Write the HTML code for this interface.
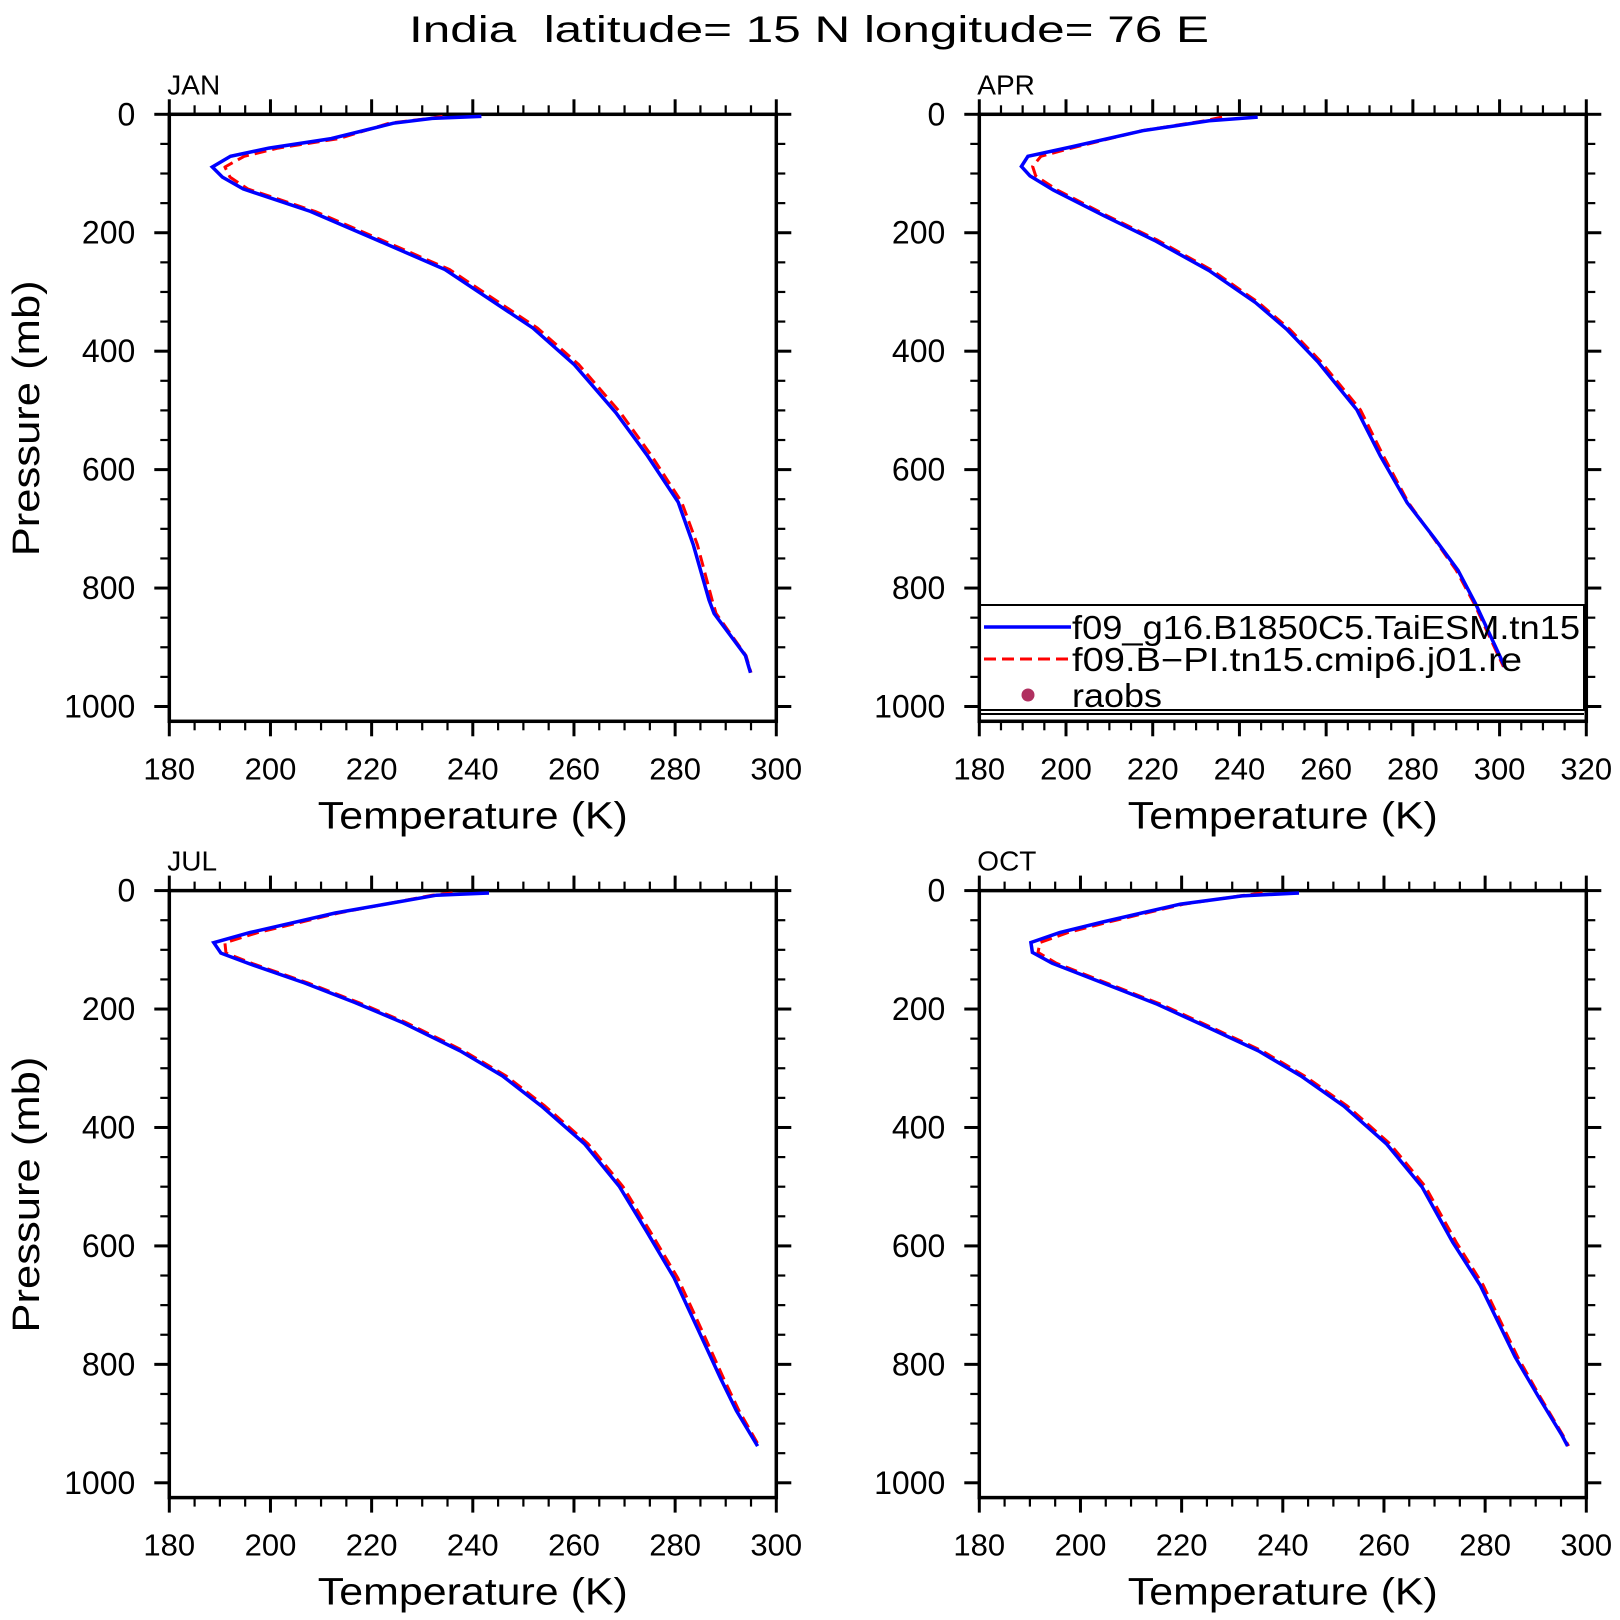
<!DOCTYPE html>
<html><head><meta charset="utf-8">
<style>
html,body{margin:0;padding:0;background:#fff;}
svg{display:block;}
text{font-family:"Liberation Sans",sans-serif;fill:#000;}
</style></head>
<body>
<svg id="fig" width="1620" height="1620" viewBox="0 0 1620 1620" xmlns="http://www.w3.org/2000/svg">
<rect x="0" y="0" width="1620" height="1620" fill="#fff"/>
<text x="809" y="42" font-size="37" text-anchor="middle" textLength="800" lengthAdjust="spacingAndGlyphs" xml:space="preserve">India  latitude= 15 N longitude= 76 E</text>
</svg>
<script>
// ---- data (pressure in mb, temperature in K) ----
const janP = [3.6,7,15,41,57,71,89,106,126,164,209,262,361,423,504,575,655,727,820,843,914,943];
const janModel = [241.7,232,224.3,212,199.7,192.1,188.5,190.5,194.6,207.9,220.2,234.5,251.9,260.1,268.3,274.4,280.6,283.6,286.7,287.7,293.9,294.9];
const janCtrl = [234,231.5,223.5,213.5,201.5,194.8,191,192,195.5,208.8,221.1,235.4,252.8,261,269.2,275.2,281.3,284.4,287.3,288.1,294,295];

const aprP = [4.8,11,27.7,56,71,87.9,104,128,171,213,264,318,363,418,499,577,656,716,770,827,933];
const aprModel = [244.2,233,217.7,200.6,191.2,189.7,191.7,197.1,208.7,220.4,233,243.7,250.9,258.1,267.1,272.5,278.7,285,290.4,294.5,301.2];
const aprCtrl = [236,232,217.5,201.8,194.2,192.3,193,198,209.4,221.2,233.8,244.4,251.6,258.8,267.9,273.2,279,284.8,290,294.2,300.9];

const julP = [4,7.7,37.9,71,88,105.6,123.8,155.8,189,222,270.7,313,364,427.8,500,576,654,739,824,878,938];
const julModel = [243.2,232.8,212.8,195.9,188.8,190.2,195.9,206.7,216.7,225.9,237.5,245.9,253.6,262.1,269,274.4,279.8,284.4,289,292.1,296.3];
const julCtrl = [236,232,213.5,197.5,191,191.2,196.6,207.4,217.4,226.6,238.2,246.6,254.3,262.8,269.7,275.1,280.5,285.1,289.6,292.6,296.6];

const octP = [4,9,22.8,37.9,53,71,87.6,104.4,122.6,155.8,192,231,270.7,313,364,427.8,500,594,666,787,854,920,938];
const octModel = [243.2,232,219.8,212.1,204.4,195.9,190.2,190.5,194.4,204.4,215.2,225.2,235.2,243.6,252.1,260.5,267.5,273.6,279,285.9,290.5,295.2,296.3];
const octCtrl = [236,231.5,220.5,213,205.6,197.5,192,191.6,195.2,205.1,215.9,225.9,235.9,244.3,252.8,261.2,268.2,274.3,279.6,286.4,290.8,295.4,296.5];

const pTicks = [0,200,400,600,800,1000];
const tTicks300 = [180,200,220,240,260,280,300];
const tTicks320 = [180,200,220,240,260,280,300,320];
const legendLabels = ["f09_g16.B1850C5.TaiESM.tn15","f09.B\u2212PI.tn15.cmip6.j01.re","raobs"];

const NS = "http://www.w3.org/2000/svg";
const svg = document.getElementById('fig');
function mk(tag, attrs, parent){
  const e = document.createElementNS(NS, tag);
  for (const k in attrs) e.setAttribute(k, attrs[k]);
  (parent||svg).appendChild(e);
  return e;
}

const panels = [
  {name:'jan', label:'JAN', left:169.3, top:114.3, tmax:300, ticks:tTicks300, P:janP, A:janModel, B:janCtrl, ylab:true},
  {name:'apr', label:'APR', left:979.3, top:114.3, tmax:320, ticks:tTicks320, P:aprP, A:aprModel, B:aprCtrl, ylab:false},
  {name:'jul', label:'JUL', left:169.3, top:890.6, tmax:300, ticks:tTicks300, P:julP, A:julModel, B:julCtrl, ylab:true},
  {name:'oct', label:'OCT', left:979.3, top:890.6, tmax:300, ticks:tTicks300, P:octP, A:octModel, B:octCtrl, ylab:false}
];
const W = 607, H = 607, PMAX = 1025, TMIN = 180;

panels.forEach(pn => {
  const g = mk('g', {});
  
  
  const xs = t => pn.left + (t - TMIN) / (pn.tmax - TMIN) * W;
  const ys = p => pn.top + p / PMAX * H;
  const L = pn.left, R = pn.left + W, T = pn.top, B = pn.top + H;

  for (let t = TMIN; t <= pn.tmax + 0.01; t += 5) {
    const major = (t - TMIN) % 20 === 0;
    const len = major ? 15 : 9;
    const x = xs(t);
    const tk1 = mk('line', {x1:x, y1:B, x2:x, y2:B+len, stroke:'#000', 'stroke-width':major?3:2.2}, g);
    
    
    const tk2 = mk('line', {x1:x, y1:T, x2:x, y2:T-len, stroke:'#000', 'stroke-width':major?3:2.2}, g);
    
    
  }
  for (let p = 0; p <= 1000; p += 50) {
    const major = p % 200 === 0;
    const len = major ? 15 : 9;
    const y = ys(p);
    const tk1 = mk('line', {x1:L, y1:y, x2:L-len, y2:y, stroke:'#000', 'stroke-width':major?3:2.2}, g);
    
    
    const tk2 = mk('line', {x1:R, y1:y, x2:R+len, y2:y, stroke:'#000', 'stroke-width':major?3:2.2}, g);
    
    
  }
  const fr = mk('rect', {x:L, y:T, width:W, height:H, fill:'none', stroke:'#000', 'stroke-width':3.5}, g);
  
  

  pn.ticks.forEach(t => {
    const tx = mk('text', {x:xs(t), y:B+58, 'font-size':31, 'text-anchor':'middle'}, g);
    
    
    tx.textContent = t;
  });
  pTicks.forEach(p => {
    const tx = mk('text', {x:L-34, y:ys(p)+11, 'font-size':32, 'text-anchor':'end'}, g);
    
    
    tx.textContent = p;
  });
  const xt = mk('text', {x:L+W/2, y:B+107, 'font-size':38, 'text-anchor':'middle', textLength:310, lengthAdjust:'spacingAndGlyphs'}, g);
  
  
  xt.textContent = 'Temperature (K)';
  if (pn.ylab) {
    const cy = T + 304;
    const yt = mk('text', {x:0, y:0, 'font-size':38, 'text-anchor':'middle', textLength:276, lengthAdjust:'spacingAndGlyphs', transform:'translate(39,'+cy+') rotate(-90)'}, g);
    
    
    yt.textContent = 'Pressure (mb)';
  }
  const ml = mk('text', {x:L-2, y:T-20, 'font-size':28}, g);
  
  
  ml.textContent = pn.label;

  const ptsB = pn.P.map((p,i) => xs(pn.B[i]).toFixed(1)+','+ys(p).toFixed(1)).join(' ');
  const lb = mk('polyline', {points:ptsB, fill:'none', stroke:'#ff0000', 'stroke-width':3, 'stroke-dasharray':'12,6', 'stroke-linejoin':'round'}, g);
  
  
  const ptsA = pn.P.map((p,i) => xs(pn.A[i]).toFixed(1)+','+ys(p).toFixed(1)).join(' ');
  const la = mk('polyline', {points:ptsA, fill:'none', stroke:'#0000ff', 'stroke-width':3.5, 'stroke-linejoin':'miter'}, g);
  
  
});

const lg = mk('g', {});


const lbox = mk('rect', {x:980, y:605, width:604, height:105, fill:'none', stroke:'#000', 'stroke-width':2}, lg);


const lbot = mk('line', {x1:980, y1:714, x2:1584, y2:714, stroke:'#000', 'stroke-width':2}, lg);


const rowY = [627, 659, 695];
const e1 = mk('line', {x1:984, y1:rowY[0], x2:1071, y2:rowY[0], stroke:'#0000ff', 'stroke-width':3.5}, lg);


const e2 = mk('line', {x1:984, y1:rowY[1], x2:1071, y2:rowY[1], stroke:'#ff0000', 'stroke-width':3, 'stroke-dasharray':'12,6'}, lg);


const e3 = mk('circle', {cx:1028, cy:rowY[2], r:6.5, fill:'#b03060'}, lg);


const lens = [508, 450, 90];
legendLabels.forEach((s,i) => {
  const t = mk('text', {x:1072, y:rowY[i]+12, 'font-size':33, textLength:lens[i], lengthAdjust:'spacingAndGlyphs'}, lg);
  
  
  t.textContent = s;
});
</script>
</body></html>
